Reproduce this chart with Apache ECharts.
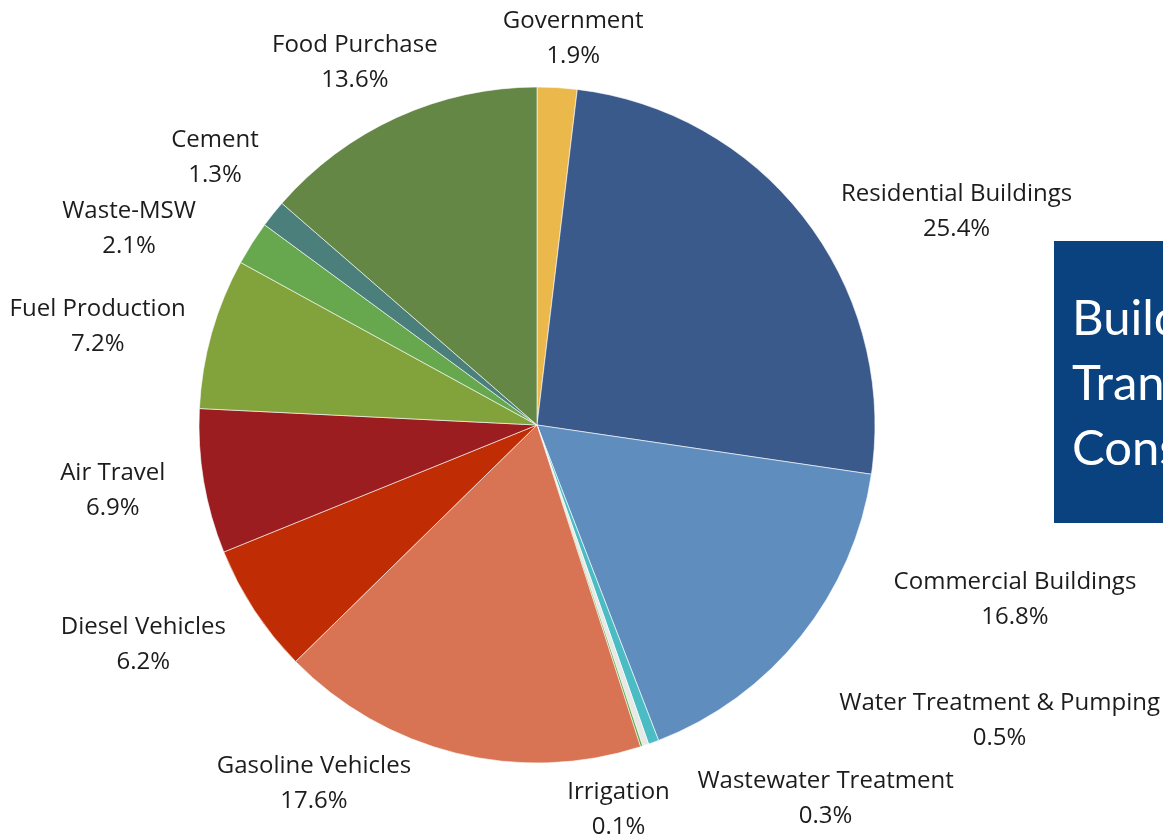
<!DOCTYPE html>
<html>
<head>
<meta charset="utf-8">
<style>
  html, body { margin: 0; padding: 0; background: #ffffff; }
  #chart { width: 1163px; height: 838px; }
</style>
<script src="https://cdn.jsdelivr.net/npm/echarts@6/dist/echarts.min.js"></script>
</head>
<body>
<div id="chart"></div>
<script>
// Emission shares by sector (percent), clockwise from the top
const categories = [
  'Government', 'Residential Buildings', 'Commercial Buildings',
  'Water Treatment & Pumping', 'Wastewater Treatment', 'Irrigation',
  'Gasoline Vehicles', 'Diesel Vehicles', 'Air Travel', 'Fuel Production',
  'Waste-MSW', 'Cement', 'Food Purchase'
];
const shares = [1.9, 25.4, 16.8, 0.5, 0.3, 0.1, 17.6, 6.2, 6.9, 7.2, 2.1, 1.3, 13.6];
const sliceColors = [
  '#EBB94B', '#3B5A8C', '#5F8DBD', '#4BBCC4', '#E6E9E5', '#5AA73F',
  '#D87454', '#C02C04', '#9B1D20', '#82A23B', '#67A84E', '#4B7F7B', '#658745'
];
// Label displacement from the outer midpoint of each slice (dx, dy)
const labelOffset = [
  [16, -49], [151, -8], [214, -36], [346, -22], [180, 54], [-23, 63],
  [-142, 31], [-111, 34], [-91, 9], [-114, -7], [-123, -15], [-58, -56], [-42, -55]
];
// Side panel headings
const panelLines = ['Buildings', 'Transportation', 'Consumption'];

const chart = echarts.init(document.getElementById('chart'), null, { renderer: 'canvas' });

const option = {
  backgroundColor: '#ffffff',
  animation: false,
  series: [{
    type: 'pie',
    center: [537, 425],
    radius: [0, 338],
    startAngle: 90,
    clockwise: true,
    avoidLabelOverlap: false,
    data: categories.map((name, i) => ({
      name: name,
      value: shares[i],
      itemStyle: { color: sliceColors[i] }
    })),
    itemStyle: { borderColor: '#ffffff', borderWidth: 0.6 },
    label: {
      show: true,
      position: 'outside',
      formatter: p => p.name + '\n' + p.value.toFixed(1) + '%',
      fontFamily: 'Open Sans',
      fontSize: 24,
      lineHeight: 35,
      color: '#1c1c1c'
    },
    labelLine: { show: true, length: 10, length2: 0, lineStyle: { width: 0, opacity: 0 } },
    labelLayout: function (params) {
      const pts = params.labelLinePoints;
      if (!pts) return {};
      const off = labelOffset[params.dataIndex];
      return {
        x: pts[0][0] + off[0],
        y: pts[0][1] + off[1],
        align: 'center',
        verticalAlign: 'middle'
      };
    },
    emphasis: { disabled: true }
  }],
  graphic: [{
    type: 'group',
    left: 1054,
    top: 241,
    children: [
      { type: 'rect', shape: { x: 0, y: 0, width: 140, height: 282 }, style: { fill: '#09427F' } }
    ].concat(panelLines.map((t, i) => ({
      type: 'text',
      x: 18,
      y: 78 + i * 65,
      style: {
        text: t,
        font: '49px Lato',
        fill: '#ffffff',
        verticalAlign: 'middle'
      }
    })))
  }]
};

chart.setOption(option);
</script>
</body>
</html>
